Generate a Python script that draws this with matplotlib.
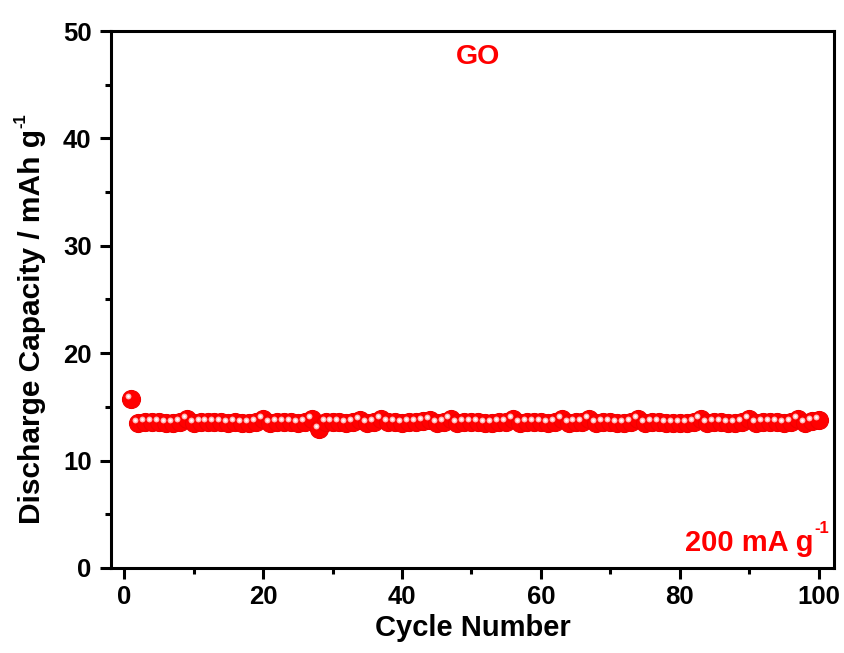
import matplotlib
matplotlib.use("Agg")
import matplotlib.pyplot as plt
from matplotlib.ticker import MultipleLocator
import matplotlib.transforms as mtransforms
import numpy as np

plt.rcParams.update({
    "font.family": ["Liberation Sans", "DejaVu Sans"],
    "font.weight": "bold",
    "axes.linewidth": 2.2,
})

# discharge capacity of GO at 200 mA g-1
cycles = np.arange(1, 101)
capacity = [
    15.7, 13.5, 13.6, 13.6, 13.6, 13.5, 13.5, 13.6, 13.9, 13.5,
    13.6, 13.6, 13.6, 13.6, 13.5, 13.6, 13.5, 13.5, 13.6, 13.9,
    13.5, 13.6, 13.6, 13.6, 13.5, 13.6, 13.9, 12.9, 13.6, 13.6,
    13.6, 13.5, 13.6, 13.8, 13.5, 13.6, 13.9, 13.6, 13.6, 13.5,
    13.6, 13.6, 13.7, 13.8, 13.5, 13.6, 13.9, 13.5, 13.6, 13.6,
    13.6, 13.5, 13.5, 13.6, 13.6, 13.9, 13.5, 13.6, 13.6, 13.6,
    13.5, 13.6, 13.9, 13.5, 13.6, 13.6, 13.9, 13.5, 13.6, 13.6,
    13.5, 13.5, 13.6, 13.9, 13.5, 13.6, 13.6, 13.5, 13.5, 13.5,
    13.5, 13.6, 13.9, 13.5, 13.6, 13.6, 13.5, 13.5, 13.6, 13.9,
    13.5, 13.6, 13.6, 13.6, 13.5, 13.6, 13.9, 13.5, 13.7, 13.8,
]

fig = plt.figure(figsize=(8.44, 6.53), dpi=100)
ax = fig.add_axes([0.1315, 0.1302, 0.8565, 0.8223])

# sphere-like markers: red ball plus a small offset highlight
ax.plot(cycles, capacity, "o", ms=13, mfc="#ff0000", mec="#f00000", mew=0.8,
        ls="none", zorder=3, clip_on=False)
hl = mtransforms.offset_copy(ax.transData, fig=fig, x=-2.2, y=2.2, units="points")
ax.plot(cycles, capacity, "o", ms=4.2, mfc="#ffb8b8", mec="none",
        ls="none", zorder=4, transform=hl, clip_on=False)
ax.plot(cycles, capacity, "o", ms=2.0, mfc="white", mec="none",
        ls="none", zorder=5, transform=hl, clip_on=False)

ax.set_xlim(-1.9, 102.2)
ax.set_ylim(0, 50)
ax.xaxis.set_major_locator(MultipleLocator(20))
ax.xaxis.set_minor_locator(MultipleLocator(10))
ax.yaxis.set_major_locator(MultipleLocator(10))
ax.yaxis.set_minor_locator(MultipleLocator(5))
ax.tick_params(which="both", direction="out", width=2.2, labelsize=18.5)
ax.tick_params(which="major", length=8)
ax.tick_params(axis="y", which="major", pad=6)
ax.tick_params(axis="x", which="major", pad=4)
ax.tick_params(which="minor", length=4.5)
ax.tick_params(top=False, right=False)
for lbl in ax.get_xticklabels() + ax.get_yticklabels():
    lbl.set_fontweight("bold")

ax.set_xlabel("Cycle Number", fontsize=21, fontweight="bold", labelpad=4)
ylab = ax.set_ylabel("Discharge Capacity / mAh g", fontsize=21.5,
                     fontweight="bold")
ax.yaxis.set_label_coords(-0.090, 0.449)
ax.annotate("-1", xy=(0, 1), xycoords=ylab, xytext=(-3, 1),
            textcoords="offset points", fontsize=12, fontweight="bold",
            rotation=90, ha="left", va="bottom")

ax.text(50.9, 47.6, "GO", color="#ff0000", fontsize=20.5, fontweight="bold",
        ha="center", va="center")
note = ax.text(99.25, 1.0, "200 mA g", color="#ff0000", fontsize=21,
               fontweight="bold", ha="right", va="bottom")
ax.annotate("-1", xy=(1, 1), xycoords=note, xytext=(1, 6),
            textcoords="offset points", fontsize=12, fontweight="bold",
            color="#ff0000", ha="left", va="top")

fig.savefig("out.png", dpi=100)
